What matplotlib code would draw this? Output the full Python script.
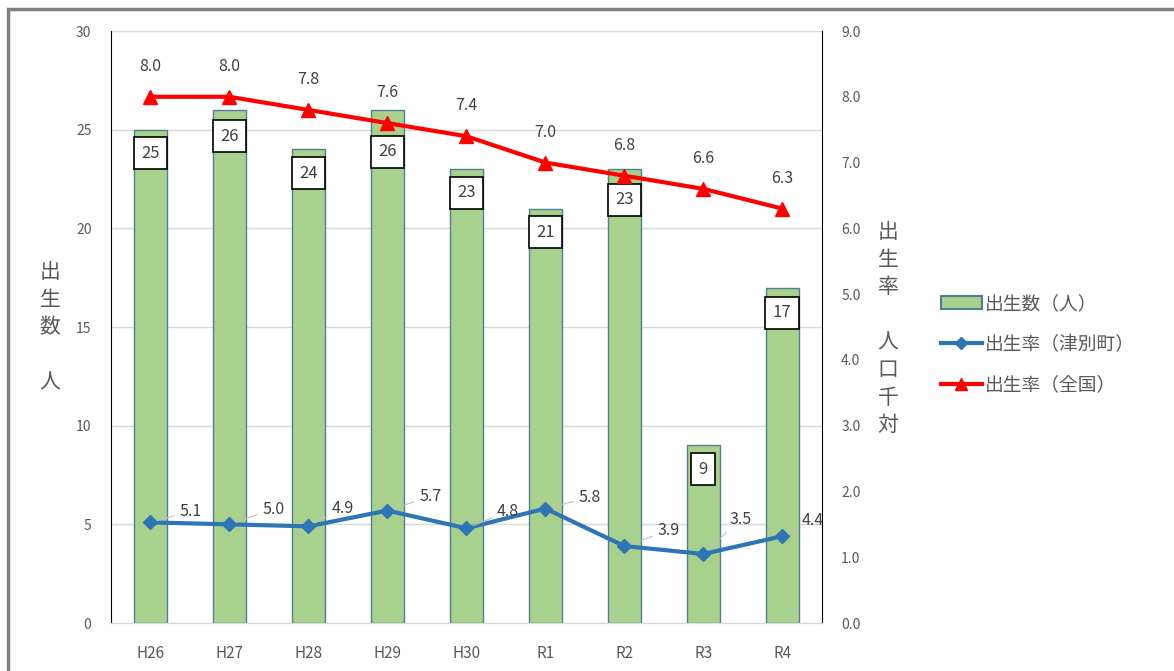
import matplotlib
matplotlib.use("Agg")
import matplotlib.pyplot as plt
from matplotlib.lines import Line2D
from matplotlib.patches import Patch, Rectangle

plt.rcParams['font.family'] = ['Noto Sans CJK JP', 'DejaVu Sans']

years = ["H26", "H27", "H28", "H29", "H30", "R1", "R2", "R3", "R4"]
births = [25, 26, 24, 26, 23, 21, 23, 9, 17]
rate_town = [5.1, 5.0, 4.9, 5.7, 4.8, 5.8, 3.9, 3.5, 4.4]
rate_nation = [8.0, 8.0, 7.8, 7.6, 7.4, 7.0, 6.8, 6.6, 6.3]

label_births = "出生数（人）"
label_town = "出生率（津別町）"
label_nation = "出生率（全国）"

# hand-placed label offsets (points)
count_label_drop = [17, 19, 17, 30, 17, 17, 22, 17, 18]
town_label_offset = [(29, 8), (32, 11), (25, 13), (31, 10), (30, 12),
                     (32, 8), (32, 11), (27, 25), (22, 11)]

TXT = "#595959"
BAR_FC = "#A9D18E"
BAR_EC = "#4F7F93"
BLUE = "#2E75B6"
RED = "#FF0000"

fig = plt.figure(figsize=(11.74, 6.71), dpi=100)
ax = fig.add_axes([0.0945, 0.0715, 0.6055, 0.8823])
ax2 = ax.twinx()

x = list(range(len(years)))
ax.bar(x, births, width=0.42, color=BAR_FC, edgecolor=BAR_EC, linewidth=1.0, zorder=2)
ax.set_ylim(0, 30)
ax.set_yticks(range(0, 31, 5))
ax.set_xlim(-0.5, len(years) - 0.5)
ax.set_xticks(x)
ax.set_xticklabels(years)
ax.yaxis.grid(True, color="#D9D9D9", linewidth=1.0, zorder=0)
ax.set_axisbelow(True)

# town birth rate shares the left scale
ax.plot(x, rate_town, color=BLUE, lw=3, marker="D", markersize=7, zorder=4)
for xi, v, off in zip(x, rate_town, town_label_offset):
    ax.annotate(f"{v:.1f}", (xi, v), xytext=off, textcoords="offset points",
                ha="center", va="center", fontsize=11.5, color="#404040", zorder=6,
                arrowprops=dict(arrowstyle="-", color="#BFBFBF", lw=0.8,
                                shrinkA=2, shrinkB=5))

for xi, v, d in zip(x, births, count_label_drop):
    ax.annotate(str(v), (xi, v), xytext=(0, -d), textcoords="offset points",
                ha="center", va="center", fontsize=12, color="#404040",
                bbox=dict(boxstyle="square,pad=0.45", fc="white", ec="black", lw=1.2),
                zorder=5)

ax2.set_ylim(0, 9)
ax2.set_yticks([i * 1.0 for i in range(10)])
ax2.set_yticklabels([f"{i:.1f}" for i in range(10)])
ax2.plot(x, rate_nation, color=RED, lw=3, marker="^", markersize=10, zorder=4)
for xi, v in zip(x, rate_nation):
    ax2.annotate(f"{v:.1f}", (xi, v), xytext=(0, 22), textcoords="offset points",
                 ha="center", va="center", fontsize=11.5, color="#404040")

for a in (ax, ax2):
    a.spines["top"].set_visible(False)
    a.spines["bottom"].set_color("#D9D9D9")
    a.tick_params(length=0, colors=TXT, labelsize=10)
ax.spines["left"].set_color("black")
ax2.spines["right"].set_color("black")
ax2.spines["left"].set_visible(False)
ax.spines["right"].set_visible(False)
ax.tick_params(axis="x", labelsize=11, pad=16)
ax.tick_params(axis="y", pad=14)
ax2.tick_params(axis="y", pad=14)

fig.text(0.0426, 0.512, "出\n生\n数\n\n人", ha="center", va="center",
         fontsize=15, color=TXT, linespacing=1.33)
fig.text(0.7564, 0.510, "出\n生\n率\n\n人\n口\n千\n対", ha="center", va="center",
         fontsize=15, color=TXT, linespacing=1.33)

handles = [Patch(facecolor=BAR_FC, edgecolor=BAR_EC, lw=1.5),
           Line2D([], [], color=BLUE, lw=3, marker="D", markersize=6),
           Line2D([], [], color=RED, lw=3, marker="^", markersize=9)]
fig.legend(handles, [label_births, label_town, label_nation],
           loc="center left", bbox_to_anchor=(0.787, 0.487), frameon=False,
           fontsize=13.5, labelcolor=TXT, handlelength=2.2, handletextpad=0.15,
           labelspacing=1.05)

fig.add_artist(Rectangle((8 / 1174, -0.1), 1.2, 1 - 9 / 671 + 0.1,
                         transform=fig.transFigure, fill=False,
                         ec="#7F7F7F", lw=2.5))

fig.savefig("out.png", dpi=100)
